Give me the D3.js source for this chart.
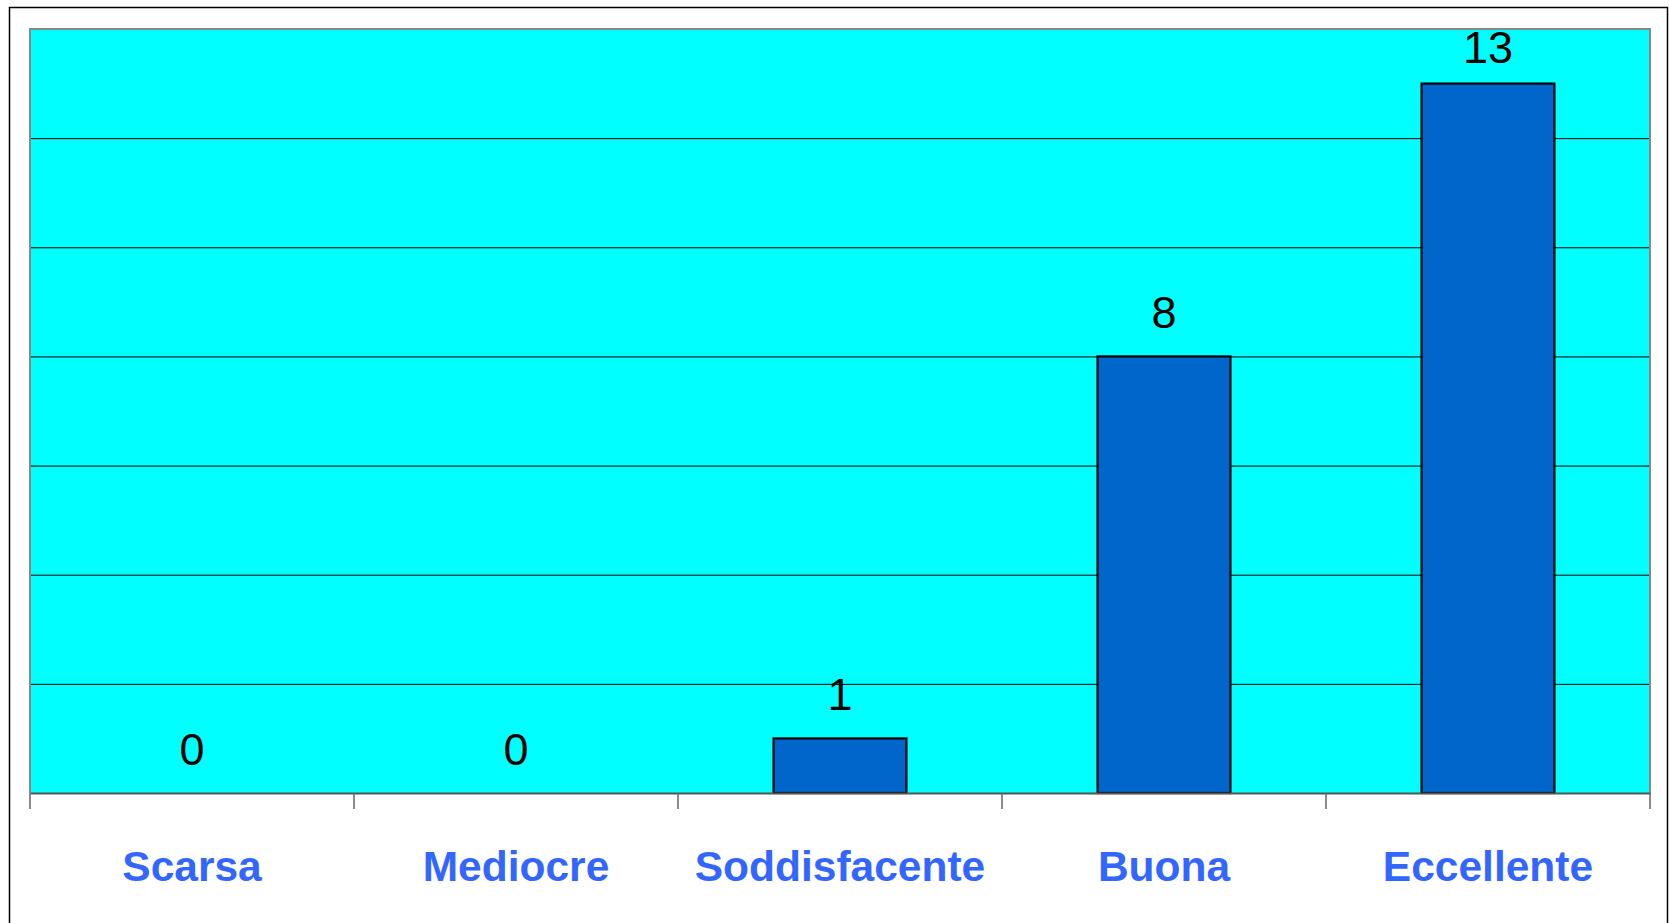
<!DOCTYPE html>
<html><head><meta charset="utf-8">
<script src="https://cdn.jsdelivr.net/npm/d3@7"></script>
<style>html,body{margin:0;padding:0;background:#fff;overflow:hidden}</style>
</head><body>
<script>
const categories = ["Scarsa","Mediocre","Soddisfacente","Buona","Eccellente"];
const values = [0,0,1,8,13];
const yTicks = [0,2,4,6,8,10,12,14];

const W = 1669, H = 923;
const m = {left:30, top:29, right:1650, bottom:793};
const svg = d3.select("body").append("svg").attr("width",W).attr("height",H);

svg.append("rect").attr("x",9.5).attr("y",7.5).attr("width",1658).attr("height",930)
  .attr("fill","#fff").attr("stroke","#000").attr("stroke-width",1.5);

const x = d3.scaleBand().domain(categories).range([m.left,m.right]).paddingInner(0).paddingOuter(0);
const y = d3.scaleLinear().domain([0,14]).range([m.bottom,m.top]);

svg.append("rect").attr("x",m.left).attr("y",m.top).attr("width",m.right-m.left).attr("height",m.bottom-m.top)
  .attr("fill","#00FFFF");

const grid = svg.append("g").attr("transform",`translate(${m.left},0)`)
  .call(d3.axisLeft(y).tickValues(yTicks.filter(v=>v>0 && v<14)).tickSize(-(m.right-m.left)).tickFormat(""));
grid.select(".domain").remove();
grid.selectAll(".tick line").attr("stroke","#000").attr("stroke-width",1);

// plot border
svg.append("path").attr("d",`M${m.left},${m.bottom}V${m.top}H${m.right}V${m.bottom}`)
  .attr("fill","none").attr("stroke","#888").attr("stroke-width",2);

const bw = x.bandwidth()*0.41;
svg.selectAll(".bar").data(values).join("rect").attr("class","bar")
  .attr("x",(d,i)=>x(categories[i])+x.bandwidth()/2-bw/2)
  .attr("y",d=>y(d)).attr("width",bw).attr("height",d=>y(0)-y(d))
  .attr("fill","#0066CC").attr("stroke","#000").attr("stroke-width",2.2)
  .attr("display",d=>d>0?null:"none");

// x axis
const xa = svg.append("g").attr("transform",`translate(0,${m.bottom})`)
  .call(d3.axisBottom(x).tickSize(0).tickFormat(""));
xa.select(".domain").attr("stroke","#555").attr("stroke-width",2);
const bounds = categories.map(c=>x(c)).concat([m.right]);
svg.selectAll(".tk").data(bounds).join("line").attr("class","tk")
  .attr("x1",d=>d).attr("x2",d=>d).attr("y1",m.bottom).attr("y2",809)
  .attr("stroke","#666").attr("stroke-width",1.5);

svg.selectAll(".cat").data(categories).join("text").attr("class","cat")
  .attr("x",d=>x(d)+x.bandwidth()/2).attr("y",881)
  .attr("text-anchor","middle").attr("font-family","Liberation Sans, Arial, sans-serif")
  .attr("font-weight","bold").attr("font-size",42.5).attr("fill","#3366FF").text(d=>d);

svg.selectAll(".val").data(values).join("text").attr("class","val")
  .attr("x",(d,i)=>x(categories[i])+x.bandwidth()/2)
  .attr("y",d=>Math.max(y(d)-28, m.top+34))
  .attr("text-anchor","middle").attr("font-family","Liberation Sans, Arial, sans-serif")
  .attr("font-size",45).attr("fill","#000").text(d=>d);
</script>
</body></html>
